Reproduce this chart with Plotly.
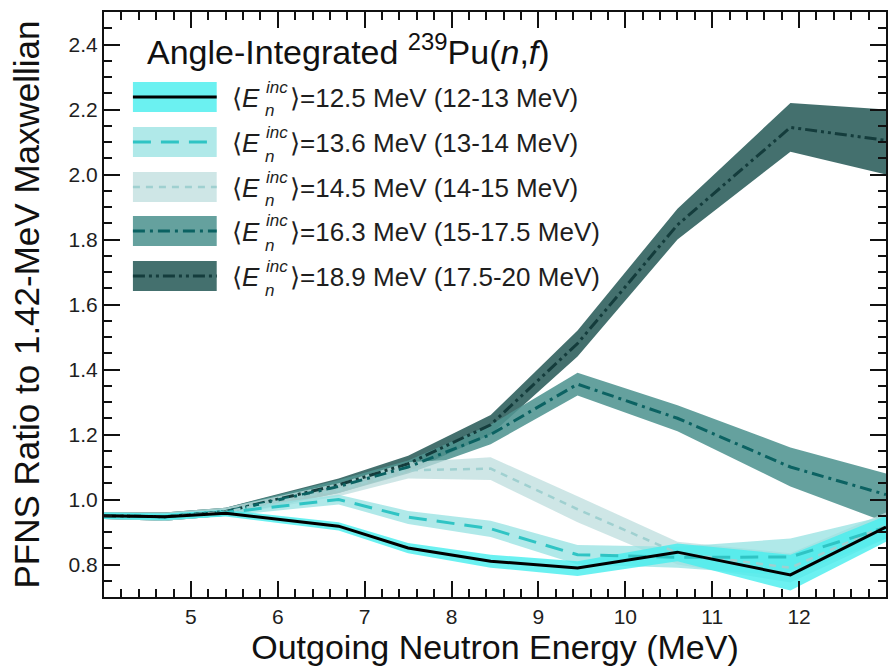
import plotly.graph_objects as go

# ---------------- data ----------------
energy = [4.0, 4.7, 5.4, 6.7, 7.5, 8.45, 9.45, 10.6, 11.9, 13.0]

r125 = [0.950, 0.947, 0.958, 0.918, 0.851, 0.810, 0.789, 0.838, 0.768, 0.915]
r125_lo = [0.940, 0.937, 0.948, 0.905, 0.835, 0.790, 0.765, 0.810, 0.720, 0.870]
r125_hi = [0.960, 0.957, 0.968, 0.930, 0.866, 0.830, 0.810, 0.865, 0.830, 0.950]

r136 = [0.950, 0.947, 0.960, 1.000, 0.946, 0.910, 0.830, 0.822, 0.823, 0.915]
r136_lo = [0.940, 0.935, 0.950, 0.985, 0.925, 0.885, 0.800, 0.790, 0.765, 0.880]
r136_hi = [0.960, 0.958, 0.970, 1.015, 0.965, 0.935, 0.860, 0.855, 0.880, 0.950]

r145 = [0.950, 0.947, 0.962, 1.030, 1.090, 1.095, 0.970, 0.835, 0.790, 0.920]
r145_lo = [0.940, 0.935, 0.950, 1.010, 1.065, 1.060, 0.930, 0.800, 0.745, 0.880]
r145_hi = [0.960, 0.960, 0.975, 1.050, 1.115, 1.130, 1.010, 0.870, 0.835, 0.960]

r163 = [0.950, 0.947, 0.963, 1.040, 1.100, 1.200, 1.355, 1.250, 1.100, 1.015]
r163_lo = [0.940, 0.935, 0.950, 1.020, 1.080, 1.170, 1.320, 1.210, 1.040, 0.930]
r163_hi = [0.960, 0.960, 0.975, 1.060, 1.120, 1.230, 1.390, 1.290, 1.160, 1.080]

r189 = [0.950, 0.947, 0.963, 1.045, 1.110, 1.230, 1.480, 1.845, 2.145, 2.105]
r189_lo = [0.940, 0.935, 0.950, 1.020, 1.085, 1.200, 1.440, 1.800, 2.070, 2.000]
r189_hi = [0.960, 0.960, 0.975, 1.065, 1.135, 1.260, 1.520, 1.895, 2.220, 2.200]

labels_mean = ["12.5", "13.6", "14.5", "16.3", "18.9"]
labels_range = ["12-13", "13-14", "14-15", "15-17.5", "17.5-20"]

x_ticks = [5, 6, 7, 8, 9, 10, 11, 12]
y_ticks = [0.8, 1.0, 1.2, 1.4, 1.6, 1.8, 2.0, 2.2, 2.4]
y_tick_text = ["0.8", "1.0", "1.2", "1.4", "1.6", "1.8", "2.0", "2.2", "2.4"]

# ---------------- styles ----------------
series = [
    (r125, r125_lo, r125_hi, "rgba(70,238,238,0.80)", "#000000", "solid", 3),
    (r136, r136_lo, r136_hi, "rgba(150,225,225,0.75)", "#2fc4c4", "18px,10px", 3),
    (r145, r145_lo, r145_hi, "rgba(190,222,222,0.75)", "#9fd0d0", "7px,6px", 2.5),
    (r163, r163_lo, r163_hi, "rgba(80,148,145,0.88)", "#0b6262", "12px,5px,3px,5px", 3),
    (r189, r189_lo, r189_hi, "rgba(52,100,98,0.92)", "#143c3c", "12px,4px,3px,4px,3px,4px", 3),
]

fig = go.Figure()

# bands
for vals, lo, hi, band, lc, dash, w in reversed(series):
    fig.add_trace(go.Scatter(x=energy, y=lo, mode="lines", line=dict(width=0),
                             showlegend=False, hoverinfo="skip"))
    fig.add_trace(go.Scatter(x=energy, y=hi, mode="lines", line=dict(width=0),
                             fill="tonexty", fillcolor=band,
                             showlegend=False, hoverinfo="skip"))
# lines
for vals, lo, hi, band, lc, dash, w in reversed(series):
    fig.add_trace(go.Scatter(x=energy, y=vals, mode="lines",
                             line=dict(color=lc, width=w, dash=dash),
                             showlegend=False))

# ---------------- manual legend (pixel helpers) ----------------
L, R, T, B = 104, 888, 12, 597
W, H = 890, 666


def px(x):
    return (x - L) / (R - L)


def py(y):
    return (B - y) / (B - T)


shapes = []
annotations = []
FONT = "Liberation Sans, Arial, Helvetica, sans-serif"
TXT = "#1e1e1e"
row_y = [97, 142, 187, 231, 276]
for i, (vals, lo, hi, band, lc, dash, w) in enumerate(series):
    yc = row_y[i]
    shapes.append(dict(type="rect", xref="paper", yref="paper",
                       x0=px(133), x1=px(217), y0=py(yc + 15), y1=py(yc - 15),
                       fillcolor=band, line=dict(width=0), layer="above"))
    shapes.append(dict(type="line", xref="paper", yref="paper",
                       x0=px(133), x1=px(217), y0=py(yc), y1=py(yc),
                       line=dict(color=lc, width=w, dash=dash), layer="above"))
    annotations.append(dict(xref="paper", yref="paper", x=px(230), y=py(yc + 1),
                            xanchor="left", yanchor="middle", showarrow=False,
                            text="⟨<i>E</i>", font=dict(size=26, family=FONT, color=TXT)))
    annotations.append(dict(xref="paper", yref="paper", x=px(264), y=py(yc - 10),
                            xanchor="left", yanchor="middle", showarrow=False,
                            text="<i>inc</i>", font=dict(size=17, family=FONT, color=TXT)))
    annotations.append(dict(xref="paper", yref="paper", x=px(263), y=py(yc + 14),
                            xanchor="left", yanchor="middle", showarrow=False,
                            text="<i>n</i>", font=dict(size=17, family=FONT, color=TXT)))
    annotations.append(dict(xref="paper", yref="paper", x=px(288), y=py(yc + 1),
                            xanchor="left", yanchor="middle", showarrow=False,
                            text=f"⟩={labels_mean[i]} MeV ({labels_range[i]} MeV)",
                            font=dict(size=26, family=FONT, color=TXT)))

annotations.append(dict(xref="paper", yref="paper", x=px(145), y=py(49),
                        xanchor="left", yanchor="middle", showarrow=False,
                        text="Angle-Integrated <sup>239</sup>Pu(<i>n</i>,<i>f</i>)",
                        font=dict(size=34, family=FONT, color="#111")))

fig.update_layout(
    width=W, height=H,
    margin=dict(l=L, r=W - R, t=T, b=H - B),
    paper_bgcolor="white", plot_bgcolor="white",
    font=dict(family=FONT, color=TXT),
    shapes=shapes, annotations=annotations,
    showlegend=False,
)

fig.update_xaxes(
    range=[4, 13], tickvals=x_ticks, ticktext=[str(v) for v in x_ticks],
    ticks="inside", ticklen=16, tickwidth=2, tickcolor="#111",
    minor=dict(dtick=0.2, tick0=4, ticks="inside", ticklen=8, tickwidth=1.5, tickcolor="#111"),
    showline=True, linecolor="#111", linewidth=2, mirror="ticks",
    showgrid=False, zeroline=False,
    tickfont=dict(size=21, family=FONT, color=TXT),
    title=dict(text="Outgoing Neutron Energy (MeV)", font=dict(size=34, family=FONT, color="#111"),
               standoff=2),
)
fig.update_yaxes(
    range=[0.7, 2.5], tickvals=y_ticks, ticktext=y_tick_text,
    ticks="inside", ticklen=16, tickwidth=2, tickcolor="#111",
    minor=dict(dtick=0.05, tick0=0.7, ticks="inside", ticklen=8, tickwidth=1.5, tickcolor="#111"),
    showline=True, linecolor="#111", linewidth=2, mirror="ticks",
    showgrid=False, zeroline=False,
    tickfont=dict(size=21, family=FONT, color=TXT),
    title=dict(text="PFNS Ratio to 1.42-MeV Maxwellian", font=dict(size=35, family=FONT, color="#111"),
               standoff=18),
)

fig.write_html("out.html")
